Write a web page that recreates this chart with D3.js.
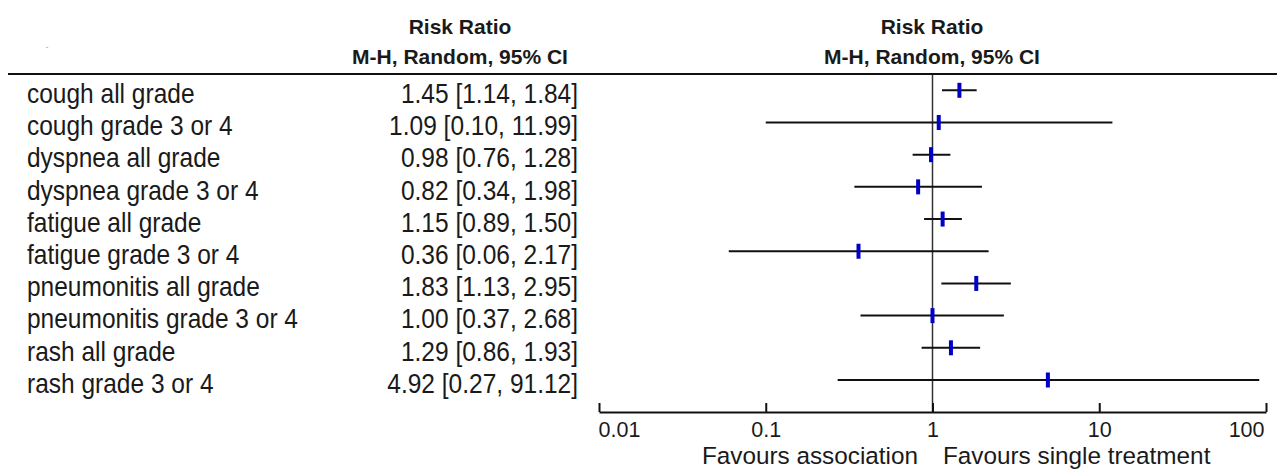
<!DOCTYPE html>
<html>
<head>
<meta charset="utf-8">
<script src="https://cdn.jsdelivr.net/npm/d3@7"></script>
<style>
  html, body { margin: 0; padding: 0; background: #fff; }
  svg { display: block; font-family: "Liberation Sans", Arial, sans-serif; }
</style>
</head>
<body>
<svg id="chart" width="1277" height="470"></svg>
<script>
// Outcomes (one row each)
const outcomes = [
  "cough all grade",
  "cough grade 3 or 4",
  "dyspnea all grade",
  "dyspnea grade 3 or 4",
  "fatigue all grade",
  "fatigue grade 3 or 4",
  "pneumonitis all grade",
  "pneumonitis grade 3 or 4",
  "rash all grade",
  "rash grade 3 or 4"
];
// Pooled risk ratios and 95% confidence bounds
const riskRatio = [1.45, 1.09, 0.98, 0.82, 1.15, 0.36, 1.83, 1.00, 1.29, 4.92];
const ciLower   = [1.14, 0.10, 0.76, 0.34, 0.89, 0.06, 1.13, 0.37, 0.86, 0.27];
const ciUpper   = [1.84, 11.99, 1.28, 1.98, 1.50, 2.17, 2.95, 2.68, 1.93, 91.12];
// Axis ticks
const tickValues = [0.01, 0.1, 1, 10, 100];
const tickLabels = ["0.01", "0.1", "1", "10", "100"];

const rows = outcomes.map((name, i) => ({
  name, rr: riskRatio[i], lo: ciLower[i], hi: ciUpper[i]
}));

const svg = d3.select("#chart");
const ink = "#1a1a1a";
const stretch = 1.1; // slightly tall lettering in the table rows

// Place a text at (x, baseline y), stretched vertically around its baseline
function tallText(sel, x, y) {
  return sel.attr("transform", (d, i) =>
    `translate(${typeof x === "function" ? x(d, i) : x},${typeof y === "function" ? y(d, i) : y}) scale(1,${stretch})`);
}

const x = d3.scaleLog().domain([0.01, 100]).range([599, 1266]);
const y = d3.scalePoint().domain(outcomes).range([90.3, 380]);

// Column headers
const headerCenters = [460, 932];
headerCenters.forEach(cx => {
  svg.append("text")
    .attr("x", cx).attr("y", 34)
    .attr("text-anchor", "middle")
    .attr("font-size", 21).attr("font-weight", "bold")
    .attr("fill", ink)
    .text("Risk Ratio");
  svg.append("text")
    .attr("x", cx).attr("y", 64)
    .attr("text-anchor", "middle")
    .attr("font-size", 21).attr("font-weight", "bold")
    .attr("fill", ink)
    .text("M-H, Random, 95% CI");
});
svg.append("text")
  .attr("x", 47).attr("y", 50)
  .attr("text-anchor", "middle")
  .attr("font-size", 9).attr("fill", "#aaa")
  .text("-");

// Rule under the headers
svg.append("line")
  .attr("x1", 8).attr("x2", 1277)
  .attr("y1", 74).attr("y2", 74)
  .attr("stroke", "#111").attr("stroke-width", 2);

// Line of no effect
svg.append("line")
  .attr("x1", x(1)).attr("x2", x(1))
  .attr("y1", 75).attr("y2", 412)
  .attr("stroke", "#333").attr("stroke-width", 1.5);

// Row labels and estimates
const fmt = d3.format(".2f");
const rowG = svg.append("g").selectAll("g").data(rows).join("g");

tallText(rowG.append("text"), 27, d => y(d.name) + 12.7)
  .attr("font-size", 24.5).attr("fill", ink)
  .text(d => d.name);

tallText(rowG.append("text"), 578, d => y(d.name) + 12.7)
  .attr("text-anchor", "end")
  .attr("font-size", 24.5).attr("fill", ink)
  .text(d => `${fmt(d.rr)} [${fmt(d.lo)}, ${fmt(d.hi)}]`);

// Confidence intervals
rowG.append("line")
  .attr("x1", d => x(d.lo)).attr("x2", d => x(d.hi))
  .attr("y1", d => y(d.name)).attr("y2", d => y(d.name))
  .attr("stroke", "#111").attr("stroke-width", 2);

// Point estimates
rowG.append("rect")
  .attr("x", d => x(d.rr) - 2).attr("y", d => y(d.name) - 7.5)
  .attr("width", 4).attr("height", 15)
  .attr("fill", "#0000c8");

// Log axis
const axis = d3.axisBottom(x)
  .tickValues(tickValues)
  .tickFormat((d, i) => tickLabels[i])
  .tickSizeInner(-9)
  .tickSizeOuter(0)
  .tickPadding(0);

const axG = svg.append("g")
  .attr("transform", "translate(0,412)")
  .call(axis);
axG.select(".domain").attr("stroke", "#111").attr("stroke-width", 2);
axG.selectAll(".tick line").attr("stroke", "#111").attr("stroke-width", 2);
axG.selectAll(".tick text")
  .attr("y", 25).attr("dy", null)
  .attr("font-size", 21.5).attr("fill", ink)
  .attr("font-family", "Liberation Sans, Arial, sans-serif")
  .attr("text-anchor", (d, i) => i === 0 ? "start" : i === tickValues.length - 1 ? "end" : "middle")
  .attr("dx", (d, i) => i === 0 ? -1 : i === tickValues.length - 1 ? -2 : 0);

// Direction captions
svg.append("text")
  .attr("x", 918).attr("y", 464)
  .attr("text-anchor", "end")
  .attr("font-size", 24.3).attr("fill", ink)
  .text("Favours association");
svg.append("text")
  .attr("x", 943).attr("y", 464)
  .attr("font-size", 24.3).attr("fill", ink)
  .text("Favours single treatment");
</script>
</body>
</html>
